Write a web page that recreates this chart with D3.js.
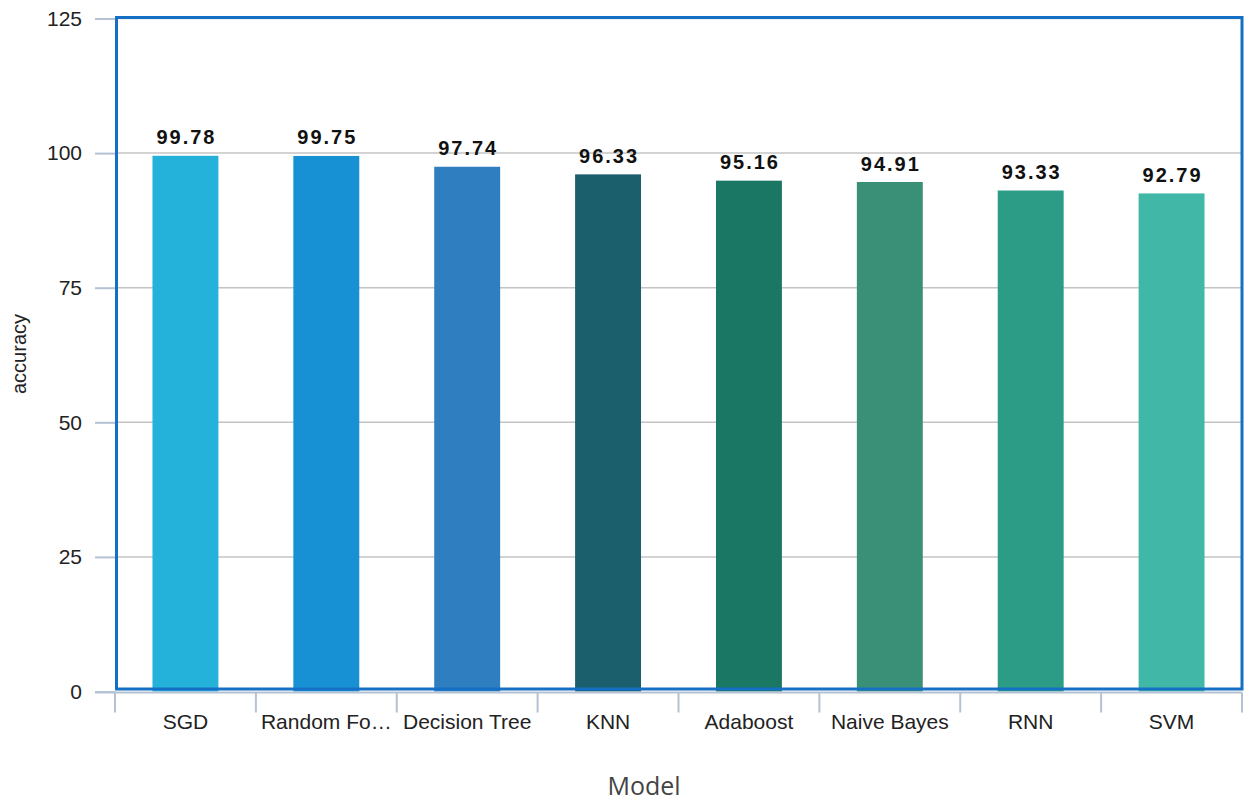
<!DOCTYPE html>
<html>
<head>
<meta charset="utf-8">
<script src="https://cdn.jsdelivr.net/npm/d3@7"></script>
<style>
  html, body { margin: 0; padding: 0; background: #fff; }
  svg { display: block; }
</style>
</head>
<body>
<svg id="chart" width="1253" height="801"></svg>
<script>
// Model accuracy comparison
const models = ["SGD", "Random Forest", "Decision Tree", "KNN", "Adaboost", "Naive Bayes", "RNN", "SVM"];
const accuracy = [99.78, 99.75, 97.74, 96.33, 95.16, 94.91, 93.33, 92.79];
const barColors = ["#24b1da", "#1891d4", "#2e7ec0", "#1b5f6c", "#1a7763", "#3a9077", "#2c9c87", "#41b8a7"];
const yTicks = [0, 25, 50, 75, 100, 125];

const svg = d3.select("#chart");
const plot = { left: 115, right: 1242, top: 18.5, bottom: 691.5 };
const labelFont = "Liberation Sans, Arial, sans-serif";

const y = d3.scaleLinear().domain([0, 125]).range([plot.bottom, plot.top]);
const xOuter = d3.scaleBand().domain(models).range([plot.left, plot.right]).padding(0);
const x = d3.scaleBand().domain(models).range([plot.left, plot.right])
  .paddingInner(0.532).paddingOuter(0.266);

const axisColor = "#b4c2d3";

// horizontal grid
svg.append("g")
  .selectAll("line")
  .data(yTicks.filter(t => t > 0))
  .join("line")
  .attr("x1", plot.left).attr("x2", plot.right)
  .attr("y1", d => y(d)).attr("y2", d => y(d))
  .attr("stroke", "#c4c4c4").attr("stroke-width", 1.5);

// bars
svg.append("g")
  .selectAll("rect")
  .data(models)
  .join("rect")
  .attr("x", d => x(d))
  .attr("width", x.bandwidth())
  .attr("y", (d, i) => y(accuracy[i]) + 1.5)
  .attr("height", (d, i) => plot.bottom - y(accuracy[i]) - 1.5)
  .attr("fill", (d, i) => barColors[i]);

// value labels
svg.append("g")
  .selectAll("text")
  .data(models)
  .join("text")
  .attr("x", d => x(d) + x.bandwidth() / 2 + 1)
  .attr("y", (d, i) => y(accuracy[i]) - 10)
  .attr("text-anchor", "middle")
  .attr("font-family", labelFont)
  .attr("font-weight", "bold")
  .attr("font-size", 20)
  .attr("letter-spacing", "2px")
  .attr("fill", "#111")
  .text((d, i) => accuracy[i].toFixed(2));

// y axis
const yAxis = svg.append("g")
  .attr("transform", `translate(${plot.left},0)`)
  .call(d3.axisLeft(y).tickValues(yTicks).tickSize(20).tickPadding(13));
yAxis.select(".domain").remove();
yAxis.selectAll(".tick line").attr("stroke", axisColor).attr("stroke-width", 2);
yAxis.selectAll(".tick text")
  .attr("font-family", labelFont)
  .attr("font-size", 21)
  .attr("fill", "#222");

// x axis baseline and category separators
svg.append("line")
  .attr("x1", plot.left - 20).attr("x2", plot.right)
  .attr("y1", plot.bottom + 1).attr("y2", plot.bottom + 1)
  .attr("stroke", axisColor).attr("stroke-width", 2);

const bounds = models.map(m => xOuter(m)).concat([plot.right]);
svg.append("g")
  .selectAll("line")
  .data(bounds)
  .join("line")
  .attr("x1", d => d).attr("x2", d => d)
  .attr("y1", plot.bottom + 1).attr("y2", plot.bottom + 21)
  .attr("stroke", axisColor).attr("stroke-width", 2);

// category labels (truncated with an ellipsis when too wide)
const xAxis = svg.append("g")
  .attr("transform", `translate(0,${plot.bottom})`)
  .call(d3.axisBottom(xOuter).tickSize(0).tickPadding(0));
xAxis.select(".domain").remove();
xAxis.selectAll(".tick text")
  .attr("dy", null)
  .attr("y", 37)
  .attr("font-family", labelFont)
  .attr("font-size", 21)
  .attr("fill", "#222")
  .each(function (d) {
    const maxW = 132;
    const el = d3.select(this);
    let s = d;
    if (this.getComputedTextLength() > maxW) {
      while (s.length > 1) {
        s = s.slice(0, -1);
        el.text(s.trimEnd() + "…");
        if (this.getComputedTextLength() <= maxW) break;
      }
    }
  });

// plot frame
svg.append("rect")
  .attr("x", plot.left + 1.5).attr("y", plot.top - 1)
  .attr("width", plot.right - plot.left - 1.5)
  .attr("height", plot.bottom - plot.top - 1.5)
  .attr("fill", "none")
  .attr("stroke", "#1570c5").attr("stroke-width", 3);

// axis titles
svg.append("text")
  .attr("transform", `translate(26,354) rotate(-90)`)
  .attr("text-anchor", "middle")
  .attr("font-family", labelFont)
  .attr("font-size", 20)
  .attr("fill", "#222")
  .text("accuracy");

svg.append("text")
  .attr("x", 644).attr("y", 795)
  .attr("text-anchor", "middle")
  .attr("font-family", "Open Sans, sans-serif")
  .attr("font-size", 25)
  .attr("fill", "#444")
  .text("Model");
</script>
</body>
</html>
